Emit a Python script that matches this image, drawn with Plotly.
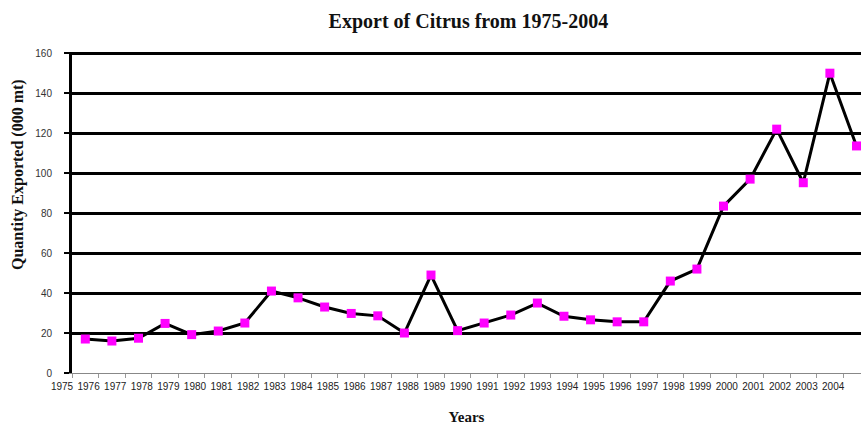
import plotly.graph_objects as go

years = list(range(1975, 2005))
tick_labels = [str(y) for y in years]
exports = [17, 16, 17.4, 24.8, 19.2, 21, 25, 41, 37.6, 33, 29.8, 28.6, 20, 49, 21.2,
           25, 29, 35, 28.4, 26.6, 25.6, 25.6, 46, 52, 83.5, 97, 122, 95.2, 150, 113.6]

fig = go.Figure()
fig.add_trace(go.Scatter(
    x=years, y=exports, mode="lines+markers",
    line=dict(color="#000000", width=3),
    marker=dict(symbol="square", size=9, color="#FF00FF"),
    cliponaxis=False, showlegend=False,
))

fig.update_layout(
    width=861, height=425,
    margin=dict(l=72, r=0, t=52, b=52, autoexpand=False),
    paper_bgcolor="white", plot_bgcolor="white",
    title=dict(text="<b>Export of Citrus from 1975-2004</b>", x=0.544, xanchor="center",
               y=0.95, yanchor="middle",
               font=dict(family="Liberation Serif, Times New Roman, serif", size=20, color="#111")),
    xaxis=dict(
        automargin=False,
        range=[1974.5, 2004.17],
        tickmode="array",
        tickvals=[y - 0.5 for y in years],
        ticktext=tick_labels,
        ticklabelshift=-10,
        ticks="outside", ticklen=4, tickcolor="#999999", tickwidth=1,
        showline=True, linecolor="#888888", linewidth=1,
        showgrid=False, zeroline=False,
        tickfont=dict(family="Liberation Sans, Arial, sans-serif", size=10, color="#222"),
        title=dict(text="<b>Years</b>", standoff=20,
                   font=dict(family="Liberation Serif, Times New Roman, serif", size=15, color="#111")),
    ),
    yaxis=dict(
        automargin=False,
        range=[0, 160.6], tickvals=[0, 20, 40, 60, 80, 100, 120, 140, 160],
        ticks="outside", ticklen=5, tickcolor="#000000", tickwidth=2,
        ticklabelstandoff=10,
        showline=True, linecolor="#000000", linewidth=3,
        showgrid=True, gridcolor="#000000", gridwidth=2.5,
        zeroline=False,
        tickfont=dict(family="Liberation Sans, Arial, sans-serif", size=10, color="#333"),
    ),
    annotations=[dict(
        text="<b>Quantity Exported (000 mt)</b>", textangle=-90,
        xref="paper", yref="paper", x=-0.0684, y=0.617,
        xanchor="center", yanchor="middle", showarrow=False,
        font=dict(family="Liberation Serif, Times New Roman, serif", size=16, color="#111"),
    )],
)

fig.write_html("out.html", config={"displayModeBar": False},
               post_script="document.body.style.margin='0';")
